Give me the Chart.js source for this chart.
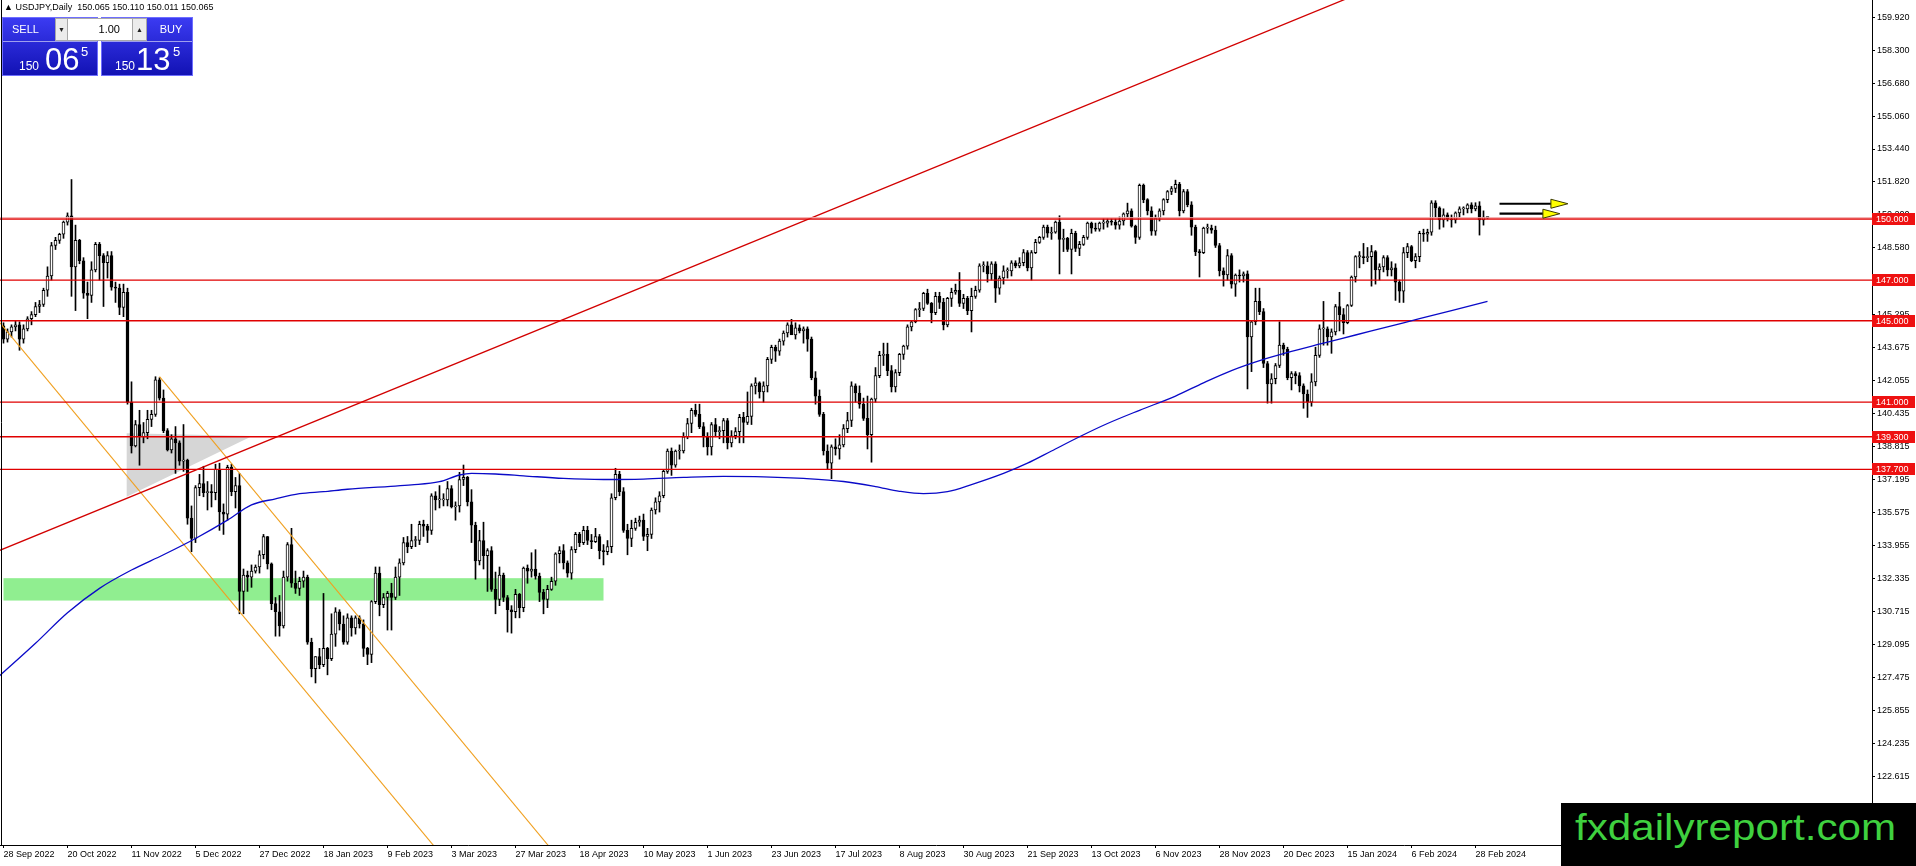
<!DOCTYPE html>
<html>
<head>
<meta charset="utf-8">
<title>USDJPY Daily</title>
<script src="https://cdn.jsdelivr.net/npm/chart.js@4/dist/chart.umd.min.js"></script>
<style>
  body { margin: 0; background: #fff; }
  #wrap { position: relative; width: 1916px; height: 866px; overflow: hidden; font-family: "Liberation Sans", Arial, sans-serif; }
  #c { position: absolute; left: 0; top: 0; }
  .abs { position: absolute; }
  #hdr { left: 4px; top: 2px; font-size: 9px; white-space: pre; color: #000; }
  .pnl { background: linear-gradient(#3b3bf2, #1212b4); border: 1px solid #6e6eff; box-sizing: border-box; }
  .lbl { color: #fff; font-size: 11px; text-align: center; line-height: 24px; height: 24px; }
  .sep { height: 1px; background: rgba(255,255,255,0.55); }
  .btn { background: #ececec; border: 1px solid #a8a8a8; box-sizing: border-box; font-size: 7px; text-align: center; line-height: 21px; color: #222; }
  #lot { background: #fff; border: 1px solid #a8a8a8; box-sizing: border-box; font-size: 11px; line-height: 21px; text-align: right; padding-right: 12px; color: #000; }
  .px { color: #fff; white-space: pre; }
  .p1 { font-size: 12px; line-height: 12px; }
  .p2 { font-size: 31px; line-height: 31px; }
  .p3 { font-size: 13px; line-height: 13px; }
  #logo { left: 1561px; top: 803px; width: 355px; height: 63px; background: #000; }
  #logoTxt { left: 1575px; top: 809px; font-size: 37px; line-height: 37px; color: #3fd13f; transform: scaleX(1.14); transform-origin: left top; white-space: pre; }
</style>
</head>
<body>
<div id="wrap">
  <canvas id="c" width="1916" height="866"></canvas>
  <div id="hdr" class="abs"></div>

  <div class="abs pnl" style="left:2px;top:17px;width:96px;height:59px"></div>
  <div class="abs pnl" style="left:101px;top:17px;width:92px;height:59px"></div>
  <div class="abs lbl" style="left:2px;top:17px;width:47px">SELL</div>
  <div class="abs lbl" style="left:149px;top:17px;width:44px">BUY</div>
  <div class="abs sep" style="left:3px;top:41px;width:94px"></div>
  <div class="abs sep" style="left:102px;top:41px;width:90px"></div>
  <div class="abs btn" style="left:55px;top:18px;width:13px;height:23px">&#9660;</div>
  <div id="lot" class="abs" style="left:67px;top:18px;width:66px;height:23px">1.00</div>
  <div class="abs btn" style="left:132px;top:18px;width:15px;height:23px">&#9650;</div>

  <div class="abs px p1" style="left:19px;top:60px">150</div>
  <div class="abs px p2" style="left:45px;top:44px">06</div>
  <div class="abs px p3" style="left:81px;top:45px">5</div>
  <div class="abs px p1" style="left:115px;top:60px">150</div>
  <div class="abs px p2" style="left:136px;top:44px">13</div>
  <div class="abs px p3" style="left:173px;top:45px">5</div>

  <div id="logo" class="abs"></div>
  <div id="logoTxt" class="abs">fxdailyreport.com</div>
</div>

<script>
// Daily bars, 28 Sep 2022 (index 0) to 4 Mar 2024 (index 371)
const open = [
  144.75,144.10,144.45,144.70,144.80,144.10,144.60,145.10,145.30,145.70, // 0
  145.80,146.50,147.20,148.70,148.95,149.25,149.85,150.15,147.65,148.95, // 10
  147.95,146.35,146.25,147.50,148.75,148.20,147.85,148.20,146.65,146.60, // 20
  145.65,146.40,141.00,138.85,139.90,139.30,139.50,140.15,140.40,142.10, // 30
  141.20,139.60,138.65,139.20,139.00,138.10,138.15,135.30,134.30,136.80, // 40
  137.00,136.55,136.60,136.55,137.70,135.60,135.50,137.80,136.60,136.90, // 50
  131.70,132.50,132.40,132.70,132.90,133.50,134.40,133.05,131.10,130.70, // 60
  130.00,132.40,134.00,132.10,131.85,132.20,132.40,129.20,127.90,128.50, // 70
  128.10,128.90,128.40,129.60,130.70,130.10,129.20,130.40,129.90,130.40, // 80
  130.10,128.90,128.60,131.20,132.60,131.05,131.40,131.60,131.40,132.40, // 90
  133.10,134.10,133.90,134.20,134.20,135.00,134.90,134.70,136.40,136.20, // 100
  136.20,136.20,136.75,135.85,135.90,137.20,137.30,136.10,134.95,133.20, // 110
  134.20,133.45,133.70,131.80,131.30,132.50,131.40,130.80,130.70,131.55, // 120
  130.90,132.85,132.70,132.80,132.45,131.65,131.30,131.80,132.20,133.55, // 130
  133.70,133.10,132.60,133.75,134.50,134.10,134.70,134.20,134.15,134.40, // 140
  133.70,133.65,133.90,136.30,137.45,136.60,134.70,134.30,134.80,135.10, // 150
  135.20,134.40,134.50,135.70,136.10,136.40,137.60,138.60,137.90,138.60, // 160
  138.60,139.30,139.95,140.60,140.40,139.80,139.30,138.80,139.90,139.55, // 170
  139.60,140.10,139.00,139.35,139.55,140.25,140.00,140.30,141.80,141.95, // 180
  141.50,141.80,143.10,143.70,143.50,144.00,144.40,144.80,144.30,144.65, // 190
  144.50,144.60,144.10,142.20,141.30,140.40,138.60,138.00,138.80,138.70, // 200
  138.90,139.70,140.10,141.80,141.45,140.90,140.20,139.40,141.15,142.30, // 210
  143.30,143.35,142.55,141.75,142.45,143.35,143.75,144.70,144.95,145.55, // 220
  145.60,146.35,145.85,145.40,146.20,145.90,144.80,146.10,146.40,146.50, // 230
  145.85,146.10,145.50,146.20,146.50,147.70,147.70,147.30,147.80,146.60, // 240
  147.10,147.45,147.45,147.85,147.70,147.85,148.35,147.60,148.35,148.85, // 250
  149.10,149.60,149.30,149.35,149.85,149.00,149.05,148.50,149.30,148.55, // 260
  148.75,149.10,149.80,149.55,149.50,149.80,149.80,149.90,149.85,149.70, // 270
  149.90,150.25,150.40,149.65,149.10,151.65,150.95,150.40,149.40,150.05, // 280
  150.40,150.95,151.35,151.50,151.70,150.40,151.35,150.70,149.60,148.40, // 290
  148.35,149.55,149.55,149.45,148.70,147.45,147.25,148.20,146.80,147.25, // 300
  147.20,147.30,144.20,144.95,145.95,145.45,142.90,141.90,142.15,142.80, // 310
  143.80,143.60,142.20,142.40,142.30,141.80,141.40,141.00,142.00,143.30, // 320
  144.60,144.60,144.20,144.45,145.70,145.30,144.90,145.75,147.15,148.15, // 330
  148.15,148.10,148.15,148.40,147.50,147.65,148.10,147.50,147.60,146.90, // 340
  146.45,148.35,148.65,147.95,148.15,149.30,149.25,149.35,150.80,150.55, // 350
  149.95,150.20,150.00,149.95,150.30,150.50,150.50,150.70,150.50,150.65, // 360
  149.95,150.065
];
const high = [
  144.90,144.60,144.80,145.00,144.95,144.80,145.20,145.45,145.90,146.00,
  146.60,147.65,148.85,149.10,149.30,149.90,150.30,151.94,149.70,149.00,
  148.10,146.90,147.90,148.85,148.85,148.30,148.40,148.40,146.90,146.80,
  146.80,146.60,142.00,140.10,140.60,140.00,140.60,140.60,142.25,142.20,
  141.60,139.70,139.40,139.80,139.10,139.90,138.20,135.90,136.90,137.45,
  137.85,137.10,136.95,137.95,138.00,136.00,137.90,137.95,137.30,137.50,
  132.80,132.70,133.00,133.00,133.70,134.50,134.40,133.10,131.40,131.50,
  132.70,134.10,134.80,132.70,132.40,132.70,132.50,129.40,128.50,128.90,
  131.60,128.95,130.60,130.90,130.80,130.50,130.60,130.50,130.50,130.50,
  130.30,128.95,131.25,132.90,132.90,131.60,131.70,132.10,132.90,133.30,
  134.35,134.40,135.00,134.40,135.15,135.20,135.00,136.50,136.60,136.90,
  136.50,137.10,136.90,136.10,137.55,137.91,137.35,136.70,135.10,134.70,
  135.10,133.80,133.90,132.65,132.90,132.60,131.50,131.00,131.80,131.60,
  132.90,133.00,133.60,133.75,132.60,131.80,132.00,132.40,133.60,133.90,
  134.00,133.20,133.90,134.60,134.60,134.90,134.90,134.50,134.80,134.50,
  134.00,134.20,136.50,137.75,137.60,136.80,135.00,135.20,135.30,135.40,
  135.50,134.80,135.80,136.30,136.60,137.70,138.70,138.75,138.65,138.90,
  139.50,140.20,140.70,140.90,140.90,140.00,139.50,140.00,140.20,139.80,
  140.20,140.20,139.60,139.75,140.40,140.50,141.50,141.90,142.20,142.00,
  142.00,143.20,143.80,143.80,144.10,144.50,144.90,145.07,144.90,144.80,
  144.70,144.70,144.20,142.50,141.60,140.50,138.90,138.90,139.20,139.40,
  139.90,140.50,142.00,141.90,141.80,141.20,141.30,141.20,142.70,143.50,
  143.90,143.90,142.80,142.60,143.40,143.80,144.80,145.00,145.60,145.90,
  146.40,146.55,145.90,146.40,146.40,146.10,146.15,146.60,146.80,147.37,
  146.30,146.20,146.60,146.70,147.80,147.90,147.90,147.90,147.90,147.20,
  147.70,147.60,147.95,147.95,148.10,148.50,148.45,148.45,149.00,149.15,
  149.70,149.70,149.60,149.90,150.16,149.50,149.10,149.50,149.40,148.90,
  149.20,149.85,149.85,149.80,149.85,150.00,150.00,150.00,150.00,150.10,
  150.30,150.78,150.50,149.70,151.72,151.72,151.00,150.60,150.20,150.50,
  151.00,151.40,151.60,151.91,151.80,151.45,151.45,150.85,149.70,148.50,
  149.60,149.75,149.70,149.65,148.80,147.60,148.50,148.30,147.30,147.50,
  147.40,147.45,145.00,146.60,146.60,145.60,143.00,142.40,142.90,144.95,
  143.90,143.70,142.50,142.50,142.45,141.90,141.60,142.40,143.70,144.80,
  145.95,144.70,144.60,145.80,146.40,145.60,145.80,147.20,148.20,148.40,
  148.80,148.60,148.70,148.45,147.80,148.20,148.20,147.90,147.80,147.00,
  148.60,148.80,148.70,148.30,149.40,149.50,149.50,150.90,150.90,150.60,
  150.50,150.30,150.20,150.35,150.60,150.60,150.75,150.80,150.80,150.85,
  150.40,150.110
];
const low = [
  143.90,143.95,144.20,144.50,143.55,143.90,144.50,144.80,145.20,145.40,
  145.70,146.20,147.00,148.50,148.80,149.05,149.70,146.20,145.50,147.80,
  146.10,145.10,145.90,147.40,147.00,145.70,147.10,146.50,145.90,145.30,
  145.20,140.90,138.50,138.80,137.90,139.00,139.20,139.80,140.30,141.10,
  139.50,138.60,138.50,137.50,137.90,137.60,135.00,133.65,134.10,136.40,
  136.35,135.70,135.85,136.20,134.70,134.50,135.20,136.40,135.80,130.60,
  130.60,131.70,131.90,132.60,132.60,133.30,132.80,130.80,129.50,129.50,
  129.90,132.20,131.90,131.60,131.50,131.90,129.10,127.50,127.20,127.90,
  128.00,127.60,128.30,129.00,129.80,129.10,129.10,129.50,129.60,129.90,
  128.50,128.10,128.20,131.10,130.50,130.90,129.80,129.80,131.30,131.50,
  133.00,133.60,133.80,133.90,134.00,134.40,134.10,134.50,135.70,135.80,
  135.90,135.90,135.80,135.20,135.60,136.90,135.90,134.10,132.30,133.00,
  132.80,131.70,131.70,130.60,131.00,131.20,129.70,129.65,130.40,130.40,
  130.70,132.10,132.40,132.30,131.20,130.60,130.90,131.75,132.00,133.10,
  132.80,132.40,132.30,133.60,133.90,134.00,134.00,133.80,134.10,133.30,
  133.00,133.50,133.60,136.20,136.40,134.60,133.50,133.90,134.70,134.90,
  134.20,133.70,134.30,135.50,135.60,136.30,137.50,137.40,137.80,138.20,
  138.50,139.20,139.50,140.30,139.70,138.80,138.40,138.40,139.30,139.20,
  139.00,138.70,138.80,139.20,139.00,139.00,139.90,139.90,141.40,141.20,
  141.00,141.50,142.90,143.00,143.30,143.80,144.20,144.40,144.10,144.40,
  143.90,143.50,142.10,140.90,140.30,138.40,137.70,137.24,138.40,138.20,
  138.80,139.50,139.80,141.00,140.70,140.10,138.70,138.05,141.00,142.20,
  142.80,142.30,141.50,141.50,142.30,143.10,143.60,144.50,144.90,145.20,
  145.50,145.80,144.90,145.30,145.60,144.55,144.70,145.70,146.30,145.70,
  145.60,145.30,144.45,146.10,146.40,147.40,146.90,147.00,145.90,146.30,
  146.80,147.10,147.20,147.60,147.60,147.70,147.45,147.00,148.30,148.80,
  149.00,149.10,149.00,149.30,147.30,148.40,148.40,147.30,148.40,148.20,
  148.70,149.00,149.30,149.40,149.40,149.50,149.60,149.70,149.50,149.50,
  149.70,150.10,149.60,148.80,149.00,150.80,150.20,149.20,149.20,149.90,
  150.20,150.80,151.20,151.30,150.15,150.30,150.60,149.20,148.20,147.15,
  148.30,149.30,149.30,148.60,147.20,146.70,147.00,146.60,146.20,146.90,
  146.90,141.65,142.50,144.80,145.30,142.70,140.95,140.95,141.90,142.70,
  143.30,142.10,141.60,141.90,141.50,140.70,140.25,140.80,141.80,143.20,
  143.80,143.80,143.40,144.30,144.50,144.35,144.85,145.70,146.90,147.60,
  147.80,147.90,146.70,146.80,147.00,147.40,147.20,147.20,146.00,145.90,
  145.90,148.10,147.90,147.60,147.90,148.90,148.90,149.20,150.10,149.50,
  149.60,149.90,149.60,149.80,150.10,150.20,150.30,150.30,150.40,149.21,
  149.70,150.011
];
const close = [
  144.10,144.45,144.70,144.80,144.10,144.60,145.10,145.30,145.70,145.80,
  146.50,147.20,148.70,148.95,149.25,149.85,150.15,147.65,148.95,147.95,
  146.35,146.25,147.50,148.75,148.20,147.85,148.20,146.65,146.60,145.65,
  146.40,141.00,138.85,139.90,139.30,139.50,140.15,140.40,142.10,141.20,
  139.60,138.65,139.20,139.00,138.10,138.15,135.30,134.30,136.80,137.00,
  136.55,136.60,136.55,137.70,135.60,135.50,137.80,136.60,136.90,131.70,
  132.50,132.40,132.70,132.90,133.50,134.40,133.05,131.10,130.70,130.00,
  132.40,134.00,132.10,131.85,132.20,132.40,129.20,127.90,128.50,128.10,
  128.90,128.40,129.60,130.70,130.10,129.20,130.40,129.90,130.40,130.10,
  128.90,128.60,131.20,132.60,131.05,131.40,131.60,131.40,132.40,133.10,
  134.10,133.90,134.20,134.20,135.00,134.90,134.70,136.40,136.20,136.20,
  136.20,136.75,135.85,135.90,137.20,137.30,136.10,134.95,133.20,134.20,
  133.45,133.70,131.80,131.30,132.50,131.40,130.80,130.70,131.55,130.90,
  132.85,132.70,132.80,132.45,131.65,131.30,131.80,132.20,133.55,133.70,
  133.10,132.60,133.75,134.50,134.10,134.70,134.20,134.15,134.40,133.70,
  133.65,133.90,136.30,137.45,136.60,134.70,134.30,134.80,135.10,135.20,
  134.40,134.50,135.70,136.10,136.40,137.60,138.60,137.90,138.60,138.60,
  139.30,139.95,140.60,140.40,139.80,139.30,138.80,139.90,139.55,139.60,
  140.10,139.00,139.35,139.55,140.25,140.00,140.30,141.80,141.95,141.50,
  141.80,143.10,143.70,143.50,144.00,144.40,144.80,144.30,144.65,144.50,
  144.60,144.10,142.20,141.30,140.40,138.60,138.00,138.80,138.70,138.90,
  139.70,140.10,141.80,141.45,140.90,140.20,139.40,141.15,142.30,143.30,
  143.35,142.55,141.75,142.45,143.35,143.75,144.70,144.95,145.55,145.60,
  146.35,145.85,145.40,146.20,145.90,144.80,146.10,146.40,146.50,145.85,
  146.10,145.50,146.20,146.50,147.70,147.70,147.30,147.80,146.60,147.10,
  147.45,147.45,147.85,147.70,147.85,148.35,147.60,148.35,148.85,149.10,
  149.60,149.30,149.35,149.85,149.00,149.05,148.50,149.30,148.55,148.75,
  149.10,149.80,149.55,149.50,149.80,149.80,149.90,149.85,149.70,149.90,
  150.25,150.40,149.65,149.10,151.65,150.95,150.40,149.40,150.05,150.40,
  150.95,151.35,151.50,151.70,150.40,151.35,150.70,149.60,148.40,148.35,
  149.55,149.55,149.45,148.70,147.45,147.25,148.20,146.80,147.25,147.20,
  147.30,144.20,144.95,145.95,145.45,142.90,141.90,142.15,142.80,143.80,
  143.60,142.20,142.40,142.30,141.80,141.40,141.00,142.00,143.30,144.60,
  144.60,144.20,144.45,145.70,145.30,144.90,145.75,147.15,148.15,148.15,
  148.10,148.15,148.40,147.50,147.65,148.10,147.50,147.60,146.90,146.45,
  148.35,148.65,147.95,148.15,149.30,149.25,149.35,150.80,150.55,149.95,
  150.20,150.00,149.95,150.30,150.50,150.50,150.70,150.50,150.65,149.95,
  150.10,150.065
];

// Moving average, read at sampled bars
const maX = [-1, 8, 16, 24, 32, 40, 48, 56, 62, 68, 74, 80, 86, 96, 102, 109, 114, 117, 123, 130,
  140, 150, 160, 170, 180, 190, 200, 210, 218, 224, 230, 236, 242, 250, 256, 262, 269, 276, 284, 293,
  300, 307, 315, 322, 330, 338, 346, 354, 362, 371];
const maY = [127.55, 129.15, 130.65, 131.85, 132.75, 133.5, 134.3, 135.2, 135.95, 136.25, 136.5, 136.6, 136.72, 136.85, 136.93, 137.09, 137.42, 137.5, 137.47, 137.38,
  137.25, 137.2, 137.22, 137.3, 137.35, 137.33, 137.25, 137.1, 136.85, 136.62, 136.5, 136.6, 136.95, 137.5, 138.0, 138.6, 139.3, 139.95, 140.6, 141.3,
  141.95, 142.55, 143.1, 143.5, 143.9, 144.3, 144.7, 145.1, 145.5, 145.95];

// Horizontal levels and drawn objects (bar index / price)
const levels = [150.0, 147.0, 145.0, 141.0, 139.3, 137.7];
const trendX = [-1, 345], trendY = [133.71, 161.57];
const chanLowX = [-1, 116], chanLowY = [144.93, 117.20];
const chanUpX = [39, 140], chanUpY = [142.25, 118.31];
const zoneX = [0, 150], zoneY = [132.35, 131.25];
const triX = [30.8, 30.8, 62.2], triY = [139.47, 136.35, 139.34];
const arrowX0 = [374, 374], arrowX1 = [391.1, 389.1], arrowY = [150.75, 150.26];

// Axis ticks
const priceTicks = [159.920, 158.300, 156.680, 155.060, 153.440, 151.820, 150.200, 148.580, 146.915, 145.295,
  143.675, 142.055, 140.435, 138.815, 137.195, 135.575, 133.955, 132.335, 130.715, 129.095,
  127.475, 125.855, 124.235, 122.615];
const dateTicks = [0, 16, 32, 48, 64, 80, 96, 112, 128, 144, 160, 176, 192, 208, 224, 240, 256, 272, 288, 304, 320, 336, 352, 368];
const dateLabels = ['28 Sep 2022', '20 Oct 2022', '11 Nov 2022', '5 Dec 2022', '27 Dec 2022', '18 Jan 2023', '9 Feb 2023',
  '3 Mar 2023', '27 Mar 2023', '18 Apr 2023', '10 May 2023', '1 Jun 2023', '23 Jun 2023', '17 Jul 2023', '8 Aug 2023',
  '30 Aug 2023', '21 Sep 2023', '13 Oct 2023', '6 Nov 2023', '28 Nov 2023', '20 Dec 2023', '15 Jan 2024', '6 Feb 2024', '28 Feb 2024'];

const xMin = -0.875, xMax = 467.125, yMin = 119.238, yMax = 160.762;
const last = close.length - 1;
const bid = close[last];
const FONT = 'Liberation Sans';

document.getElementById('hdr').textContent = '\u25B2 USDJPY,Daily  ' +
  [open[last], high[last], low[last], close[last]].map(v => v.toFixed(3)).join(' ');

const bars = close.map((c, i) => i);
const pts = (xs, ys) => xs.map((v, i) => ({ x: v, y: ys[i] }));
const lineDs = (data, color, width, extra) => Object.assign({
  type: 'line', data, borderColor: color, borderWidth: width, pointRadius: 0,
  tension: 0, fill: false, order: 0
}, extra || {});

const datasets = [];
// candle bodies
datasets.push({
  type: 'bar',
  data: bars.map(i => ({ x: i, y: [open[i], close[i]] })),
  backgroundColor: bars.map(i => close[i] >= open[i] ? '#ffffff' : '#000000'),
  borderColor: '#000', borderWidth: 1, borderSkipped: false,
  barThickness: 3, grouped: false, minBarLength: 1, order: 1
});
// wicks
datasets.push({
  type: 'bar',
  data: bars.map(i => ({ x: i, y: [low[i], high[i]] })),
  backgroundColor: '#000', borderWidth: 0,
  barThickness: 1, grouped: false, order: 2
});
// moving average
datasets.push(lineDs(pts(maX, maY), '#0a0ac8', 1.3, { cubicInterpolationMode: 'monotone' }));
// bid line
datasets.push(lineDs(pts([xMin, xMax], [bid, bid]), '#f2a6a6', 1));
// levels
levels.forEach(v => datasets.push(lineDs(pts([xMin, xMax], [v, v]), '#e00000', 1.3)));
// trend and channel
datasets.push(lineDs(pts(trendX, trendY), '#d20000', 1.3));
datasets.push(lineDs(pts(chanLowX, chanLowY), '#f0a020', 1.1));
datasets.push(lineDs(pts(chanUpX, chanUpY), '#f0a020', 1.1));
// arrow shafts
arrowY.forEach((v, k) => datasets.push(lineDs(pts([arrowX0[k], arrowX1[k] - 2], [v, v]), '#000', 2.2)));

const drawings = {
  id: 'drawings',
  beforeDatasetsDraw(chart) {
    const { ctx, chartArea: a, scales: { x, y } } = chart;
    ctx.save();
    ctx.beginPath();
    ctx.rect(a.left, a.top, a.width, a.height);
    ctx.clip();
    // green zone
    const gx1 = x.getPixelForValue(zoneX[0]), gx2 = x.getPixelForValue(zoneX[1]);
    const gy1 = y.getPixelForValue(zoneY[0]), gy2 = y.getPixelForValue(zoneY[1]);
    ctx.fillStyle = '#90ee90';
    ctx.fillRect(gx1, gy1, gx2 - gx1, gy2 - gy1);
    // grey triangle
    ctx.fillStyle = '#d6d6d6';
    ctx.beginPath();
    triX.forEach((v, i) => {
      const px = x.getPixelForValue(v), py = y.getPixelForValue(triY[i]);
      if (i) ctx.lineTo(px, py); else ctx.moveTo(px, py);
    });
    ctx.closePath();
    ctx.fill();
    ctx.restore();
  },
  afterDraw(chart) {
    const { ctx, chartArea: a, scales: { x, y } } = chart;
    ctx.save();
    // arrow heads
    arrowY.forEach((v, k) => {
      const tx = x.getPixelForValue(arrowX1[k]), ty = y.getPixelForValue(v);
      ctx.beginPath();
      ctx.moveTo(tx, ty);
      ctx.lineTo(tx - 17, ty - 4.5);
      ctx.lineTo(tx - 17, ty + 4.5);
      ctx.closePath();
      ctx.fillStyle = '#ffff00';
      ctx.fill();
      ctx.strokeStyle = '#3a3a00';
      ctx.lineWidth = 1;
      ctx.stroke();
    });
    // level price labels on the axis
    ctx.font = '9px "' + FONT + '"';
    ctx.textBaseline = 'middle';
    levels.forEach(v => {
      const py = Math.round(y.getPixelForValue(v));
      ctx.fillStyle = '#ee1111';
      ctx.fillRect(a.right, py - 6, 43, 12);
      ctx.fillStyle = '#fff';
      ctx.fillText(v.toFixed(3), a.right + 4, py + 0.5);
    });
    // left frame
    ctx.strokeStyle = '#000';
    ctx.lineWidth = 1;
    ctx.beginPath();
    ctx.moveTo(1.5, 0);
    ctx.lineTo(1.5, a.bottom);
    ctx.stroke();
    ctx.restore();
  }
};

new Chart(document.getElementById('c'), {
  type: 'bar',
  data: { datasets },
  options: {
    responsive: false,
    animation: false,
    devicePixelRatio: 1,
    layout: { padding: 0 },
    plugins: { legend: { display: false }, tooltip: { enabled: false } },
    scales: {
      x: {
        type: 'linear', position: 'bottom', min: xMin, max: xMax, offset: false,
        afterBuildTicks: s => { s.ticks = dateTicks.map(v => ({ value: v })); },
        afterFit: s => { s.height = 21; s.paddingLeft = 0; s.paddingRight = 0; },
        ticks: {
          callback: v => dateLabels[dateTicks.indexOf(v)],
          align: 'start', autoSkip: false, maxRotation: 0, padding: 1,
          color: '#000', font: { family: FONT, size: 9 }
        },
        grid: { drawOnChartArea: false, tickLength: 3, color: '#000', offset: false },
        border: { color: '#000', width: 1 }
      },
      y: {
        type: 'linear', position: 'right', min: yMin, max: yMax,
        afterBuildTicks: s => { s.ticks = priceTicks.map(v => ({ value: v })); },
        afterFit: s => { s.width = 44; s.paddingTop = 0; s.paddingBottom = 0; },
        ticks: {
          callback: v => v.toFixed(3), autoSkip: false, padding: 2,
          color: '#000', font: { family: FONT, size: 9 }
        },
        grid: { drawOnChartArea: false, tickLength: 3, color: '#000' },
        border: { color: '#000', width: 1 }
      }
    }
  },
  plugins: [drawings]
});
</script>
</body>
</html>
